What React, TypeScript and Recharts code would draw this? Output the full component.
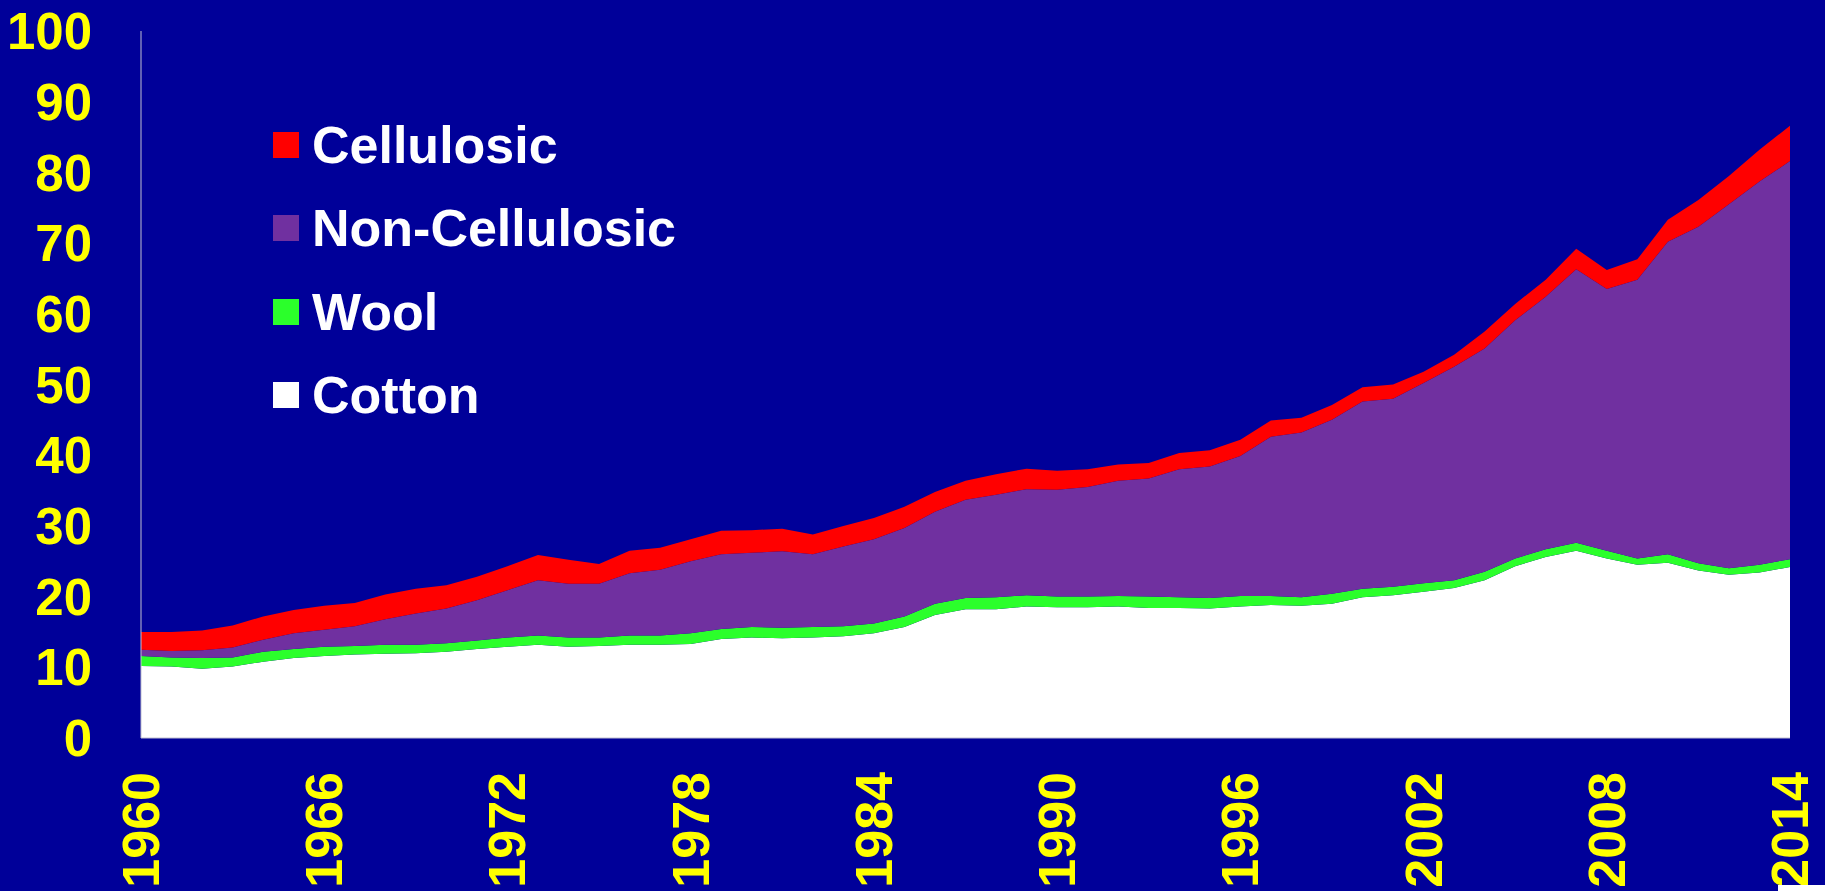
import { Area, AreaChart, Legend, XAxis, YAxis } from "recharts";

const YEARS = [
  1960, 1961, 1962, 1963, 1964, 1965, 1966, 1967, 1968, 1969,
  1970, 1971, 1972, 1973, 1974, 1975, 1976, 1977, 1978, 1979,
  1980, 1981, 1982, 1983, 1984, 1985, 1986, 1987, 1988, 1989,
  1990, 1991, 1992, 1993, 1994, 1995, 1996, 1997, 1998, 1999,
  2000, 2001, 2002, 2003, 2004, 2005, 2006, 2007, 2008, 2009,
  2010, 2011, 2012, 2013, 2014,
];

const COTTON = [
  10.2, 10.1, 9.8, 10.1, 10.8, 11.3, 11.6, 11.8, 11.9, 12.0,
  12.2, 12.6, 12.9, 13.2, 12.9, 13.0, 13.2, 13.2, 13.3, 14.0,
  14.2, 14.1, 14.2, 14.4, 14.8, 15.7, 17.4, 18.2, 18.2, 18.6,
  18.5, 18.5, 18.6, 18.4, 18.4, 18.3, 18.6, 18.8, 18.7, 19.0,
  19.9, 20.2, 20.7, 21.2, 22.3, 24.3, 25.6, 26.5, 25.4, 24.5,
  24.8, 23.7, 23.1, 23.4, 24.2,
];

const WOOL = [
  1.4, 1.3, 1.5, 1.3, 1.4, 1.3, 1.3, 1.2, 1.3, 1.2,
  1.2, 1.2, 1.3, 1.3, 1.3, 1.2, 1.3, 1.3, 1.5, 1.4,
  1.5, 1.5, 1.5, 1.4, 1.4, 1.5, 1.6, 1.6, 1.7, 1.6,
  1.5, 1.5, 1.5, 1.6, 1.5, 1.5, 1.5, 1.3, 1.2, 1.4,
  1.2, 1.2, 1.2, 1.1, 1.2, 1.1, 1.1, 1.1, 1.1, 0.9,
  1.2, 1.0, 0.9, 1.1, 1.1,
];

const NON_CELLULOSIC = [
  0.9, 0.9, 1.1, 1.4, 1.7, 2.2, 2.4, 2.8, 3.6, 4.4,
  4.9, 5.7, 6.7, 7.8, 7.6, 7.6, 8.8, 9.3, 10.2, 10.6,
  10.5, 10.8, 10.3, 11.3, 11.9, 12.5, 13.0, 13.9, 14.5, 15.0,
  15.1, 15.5, 16.3, 16.7, 18.1, 18.6, 19.8, 22.5, 23.3, 24.6,
  26.5, 26.6, 28.3, 30.2, 31.6, 33.7, 35.7, 38.7, 37.0, 39.4,
  44.2, 47.6, 51.5, 54.2, 56.3,
];

const CELLULOSIC = [
  2.5, 2.7, 2.8, 3.1, 3.3, 3.3, 3.4, 3.3, 3.5, 3.5,
  3.3, 3.3, 3.4, 3.6, 3.4, 2.8, 3.2, 3.1, 3.1, 3.3,
  3.2, 3.2, 2.8, 2.9, 3.0, 3.0, 2.8, 2.7, 2.9, 2.9,
  2.7, 2.5, 2.3, 2.2, 2.3, 2.3, 2.3, 2.3, 2.1, 2.1,
  2.0, 2.0, 1.6, 1.7, 2.4, 2.3, 2.4, 2.9, 2.7, 2.9,
  3.1, 3.8, 4.0, 4.5, 5.0,
];

const Y_TICKS = [0, 10, 20, 30, 40, 50, 60, 70, 80, 90, 100];

// legend reads top-down, opposite of the stacking order
const LEGEND_ORDER = ["Cellulosic", "Non-Cellulosic", "Wool", "Cotton"];

const data = YEARS.map((year, i) => ({
  year,
  cotton: COTTON[i],
  wool: WOOL[i],
  nonCellulosic: NON_CELLULOSIC[i],
  cellulosic: CELLULOSIC[i],
}));

const FONT = '"Liberation Sans", Arial, sans-serif';
const BG = "#000099";
const YELLOW = "#FFFF00";

const YearTick = (props: any) => {
  const { x, y, payload } = props;
  return (
    <text
      x={x}
      y={y}
      transform={`rotate(-90, ${x}, ${y})`}
      textAnchor="end"
      dominantBaseline="central"
      fill={YELLOW}
      fontSize={52}
      fontWeight="bold"
      fontFamily={FONT}
    >
      {payload.value}
    </text>
  );
};

const renderLegend = (props: any) => {
  const items = [...(props.payload ?? [])].sort(
    (a: any, b: any) => LEGEND_ORDER.indexOf(a.value) - LEGEND_ORDER.indexOf(b.value)
  );
  return (
    <div>
      {items.map((it: any) => (
        <div
          key={it.value}
          style={{ display: "flex", alignItems: "center", height: 83.5 }}
        >
          <span
            style={{
              display: "inline-block",
              width: 26,
              height: 26,
              background: it.color,
              marginRight: 13,
            }}
          />
          <span
            style={{
              color: "#FFFFFF",
              fontFamily: FONT,
              fontWeight: "bold",
              fontSize: 52,
              lineHeight: 1,
            }}
          >
            {it.value}
          </span>
        </div>
      ))}
    </div>
  );
};

export default function App() {
  return (
    <div
      style={{
        position: "absolute",
        left: 0,
        top: 0,
        width: 1825,
        height: 891,
        background: BG,
        overflow: "hidden",
      }}
    >
      <AreaChart
        width={1825}
        height={891}
        data={data}
        margin={{ top: 31, right: 35, left: 0, bottom: 0 }}
      >
        <XAxis
          dataKey="year"
          interval={5}
          height={153}
          tickSize={0}
          tickMargin={34}
          tickLine={false}
          axisLine={{ stroke: "#C0C0D0", strokeWidth: 1 }}
          tick={YearTick}
        />
        <YAxis
          type="number"
          domain={[0, 100]}
          ticks={Y_TICKS}
          interval={0}
          width={141}
          tickSize={0}
          tickMargin={49}
          tickLine={false}
          axisLine={{ stroke: "#C0C0D0", strokeWidth: 1 }}
          tick={{ fill: YELLOW, fontSize: 51, fontWeight: "bold", fontFamily: FONT }}
        />
        <Legend
          layout="vertical"
          align="center"
          verticalAlign="middle"
          content={renderLegend}
          wrapperStyle={{ left: 273, top: 103, width: 500 }}
        />
        <Area
          type="linear"
          dataKey="cotton"
          name="Cotton"
          stackId="1"
          fill="#FFFFFF"
          fillOpacity={1}
          stroke="none"
          isAnimationActive={false}
        />
        <Area
          type="linear"
          dataKey="wool"
          name="Wool"
          stackId="1"
          fill="#2BFF2B"
          fillOpacity={1}
          stroke="none"
          isAnimationActive={false}
        />
        <Area
          type="linear"
          dataKey="nonCellulosic"
          name="Non-Cellulosic"
          stackId="1"
          fill="#7030A0"
          fillOpacity={1}
          stroke="none"
          isAnimationActive={false}
        />
        <Area
          type="linear"
          dataKey="cellulosic"
          name="Cellulosic"
          stackId="1"
          fill="#FF0000"
          fillOpacity={1}
          stroke="none"
          isAnimationActive={false}
        />
      </AreaChart>
      <div
        style={{
          position: "absolute",
          left: 1778,
          top: 885,
          width: 47,
          height: 6,
          background: "#FFFFFF",
        }}
      />
    </div>
  );
}
